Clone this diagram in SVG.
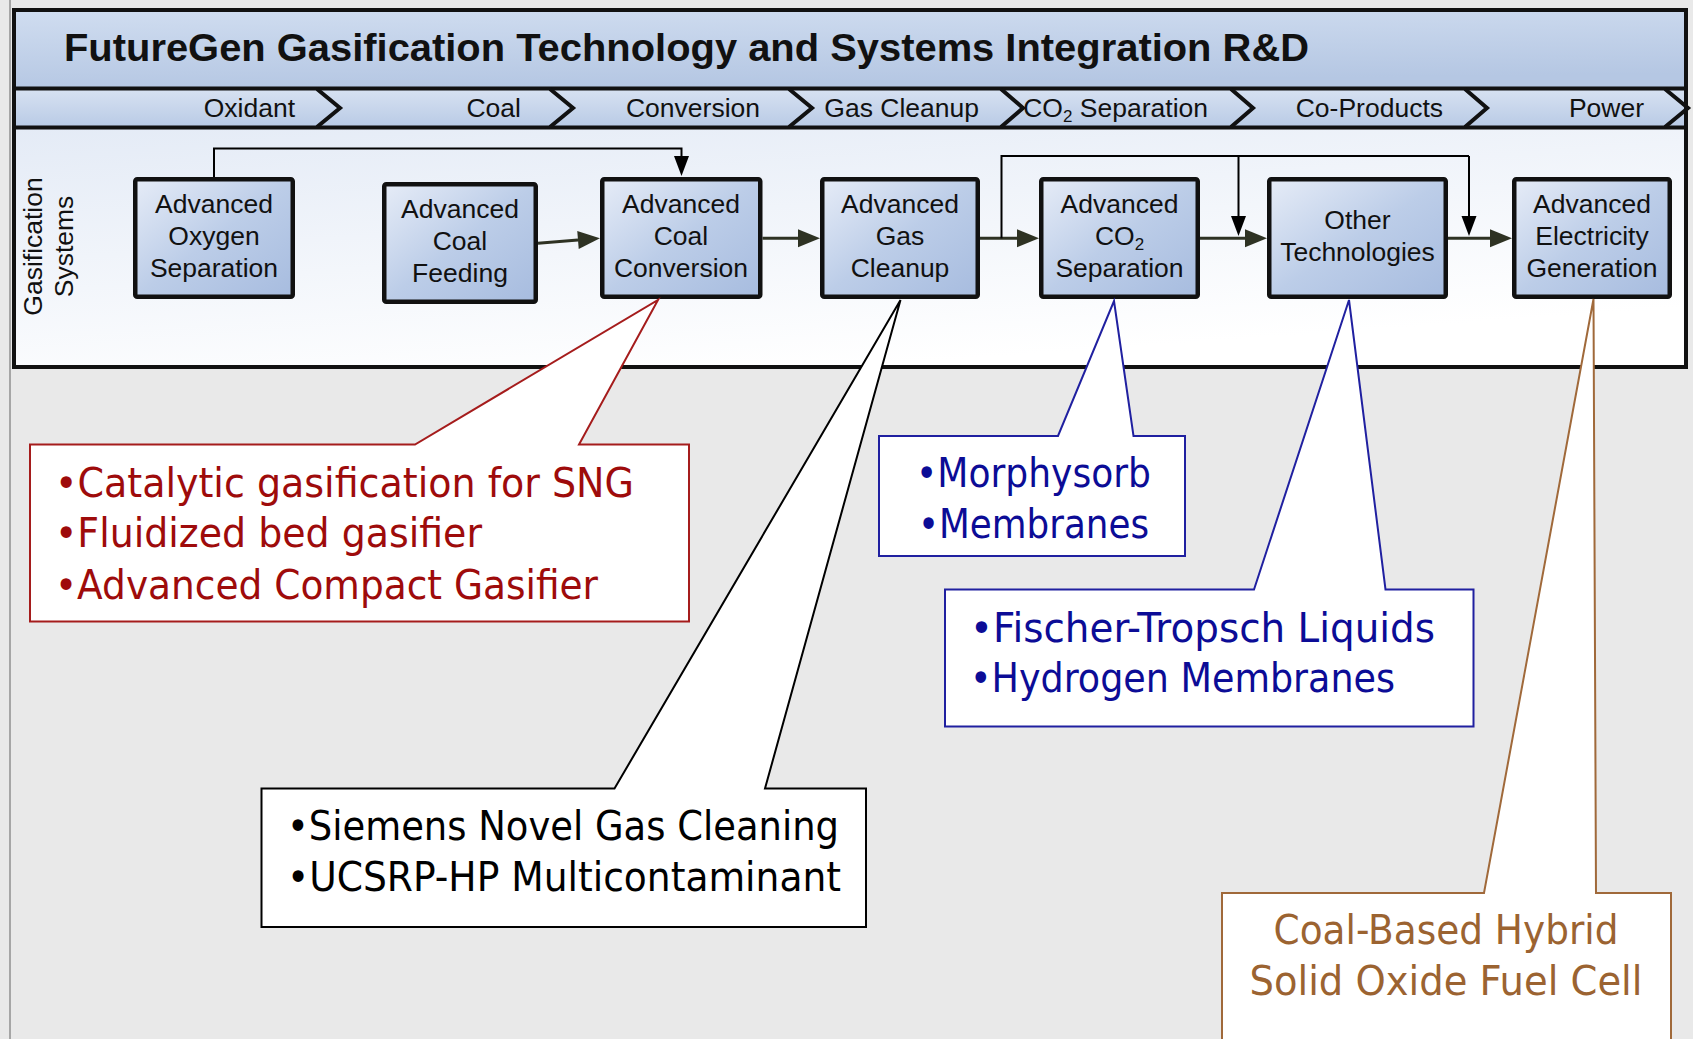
<svg xmlns="http://www.w3.org/2000/svg" width="1693" height="1039" viewBox="0 0 1693 1039">
<defs>
<style>
.nt{font-family:"Liberation Sans",Arial,sans-serif;font-size:26.5px;fill:#111;text-anchor:middle}
.cl{font-family:"Liberation Sans",Arial,sans-serif;font-size:26.5px;fill:#111;text-anchor:end}
.node{fill:url(#nodeGrad);stroke:#111;stroke-width:4.5}
.thick{fill:none;stroke:#2e3223;stroke-width:3;marker-end:url(#ah)}
.thin{fill:none;stroke:#000;stroke-width:2;marker-end:url(#ab)}
.co{font-family:"DejaVu Sans",Verdana,sans-serif;font-size:40px}
.cb{fill:#fff;stroke-width:2}
.chev{fill:none;stroke:#111;stroke-width:4;stroke-linejoin:miter}
</style>
<linearGradient id="nodeGrad" x1="0" y1="0" x2="1" y2="1">
<stop offset="0" stop-color="#e6ecf7"/>
<stop offset="0.5" stop-color="#bccde8"/>
<stop offset="1" stop-color="#a7bcdf"/>
</linearGradient>
<linearGradient id="titleGrad" x1="0" y1="0" x2="0.25" y2="1">
<stop offset="0" stop-color="#d0ddf0"/>
<stop offset="1" stop-color="#b5c7e3"/>
</linearGradient>
<linearGradient id="chevGrad" x1="0" y1="0" x2="0" y2="1">
<stop offset="0" stop-color="#d8e2f2"/>
<stop offset="1" stop-color="#b8cae5"/>
</linearGradient>
<linearGradient id="bodyGrad" x1="0" y1="0" x2="0.5" y2="1">
<stop offset="0" stop-color="#e4ebf6"/>
<stop offset="1" stop-color="#ffffff"/>
</linearGradient>
<marker id="ah" markerUnits="userSpaceOnUse" markerWidth="24" markerHeight="20" refX="0" refY="9" orient="auto" overflow="visible">
<path d="M0,0 L22,9 L0,18 Z" fill="#2e3223"/>
</marker>
<marker id="ab" markerUnits="userSpaceOnUse" markerWidth="22" markerHeight="16" refX="0" refY="7.5" orient="auto" overflow="visible">
<path d="M0,0 L20,7.5 L0,15 Z" fill="#000"/>
</marker>
</defs>

<rect x="0" y="0" width="1693" height="1039" fill="#e9e9e9"/>
<line x1="10" y1="0" x2="10" y2="1039" stroke="#a6a6a6" stroke-width="2"/>

<g id="frame">
<rect x="14" y="128" width="1672" height="239" fill="url(#bodyGrad)"/>
<rect x="14" y="10" width="1672" height="78" fill="url(#titleGrad)"/>
<rect x="14" y="88" width="1672" height="40" fill="url(#chevGrad)"/>
<rect x="14" y="10" width="1672" height="357" fill="none" stroke="#111" stroke-width="4"/>
<line x1="14" y1="88.5" x2="1686" y2="88.5" stroke="#111" stroke-width="4"/>
<line x1="14" y1="127.5" x2="1686" y2="127.5" stroke="#111" stroke-width="4"/>
<polyline class="chev" points="317,89 340,108 317,127"/>
<polyline class="chev" points="550,89 573,108 550,127"/>
<polyline class="chev" points="789,89 812,108 789,127"/>
<polyline class="chev" points="1001,89 1023,108 1001,127"/>
<polyline class="chev" points="1231,89 1253,108 1231,127"/>
<polyline class="chev" points="1465,89 1487,108 1465,127"/>
<polyline class="chev" points="1665,89 1688,108 1665,127"/>
<text x="64" y="61" font-family="'Liberation Sans',Arial,sans-serif" font-weight="bold" font-size="39.5" fill="#111" textLength="1245" lengthAdjust="spacingAndGlyphs">FutureGen Gasification Technology and Systems Integration R&amp;D</text>
<text class="cl" x="295" y="117">Oxidant</text>
<text class="cl" x="521" y="117">Coal</text>
<text class="cl" x="760" y="117">Conversion</text>
<text class="cl" x="979" y="117">Gas Cleanup</text>
<text class="cl" x="1208" y="117">CO<tspan font-size="17" dy="5">2</tspan><tspan dy="-5"> Separation</tspan></text>
<text class="cl" x="1443" y="117">Co-Products</text>
<text class="cl" x="1644" y="117">Power</text>
<text class="nt" font-size="26" transform="translate(42,246.5) rotate(-90)"><tspan x="0" y="0">Gasification</tspan><tspan x="0" y="31">Systems</tspan></text>
</g>

<g id="connectors">
<path class="thin" d="M214,177 V148.5 H681.5 V156"/>
<path class="thick" d="M538,243.3 L578,240"/>
<path class="thick" d="M762.5,238.3 H798"/>
<path class="thick" d="M980,238.3 H1017"/>
<path class="thick" d="M1200,238.3 H1245"/>
<path class="thick" d="M1448,238.3 H1490"/>
<path fill="none" stroke="#000" stroke-width="2" d="M1001.5,238.3 V156 H1469"/>
<path class="thin" d="M1238.5,156 V216"/>
<path class="thin" d="M1469,156 V216"/>
</g>

<g id="node-oxygen">
<rect class="node" x="135.25" y="179.25" width="157.5" height="117.5" rx="2"/>
<text class="nt"><tspan x="214" y="213">Advanced</tspan><tspan x="214" y="245">Oxygen</tspan><tspan x="214" y="277">Separation</tspan></text>
</g>
<g id="node-coal-feeding">
<rect class="node" x="384.25" y="184.25" width="151.5" height="117.5" rx="2"/>
<text class="nt"><tspan x="460" y="218">Advanced</tspan><tspan x="460" y="250">Coal</tspan><tspan x="460" y="282">Feeding</tspan></text>
</g>
<g id="node-coal-conversion">
<rect class="node" x="602.25" y="179.25" width="158" height="117.5" rx="2"/>
<text class="nt"><tspan x="681" y="213">Advanced</tspan><tspan x="681" y="245">Coal</tspan><tspan x="681" y="277">Conversion</tspan></text>
</g>
<g id="node-gas-cleanup">
<rect class="node" x="822.25" y="179.25" width="155.5" height="117.5" rx="2"/>
<text class="nt"><tspan x="900" y="213">Advanced</tspan><tspan x="900" y="245">Gas</tspan><tspan x="900" y="277">Cleanup</tspan></text>
</g>
<g id="node-co2-separation">
<rect class="node" x="1041.25" y="179.25" width="156.5" height="117.5" rx="2"/>
<text class="nt" x="1119.5" y="213">Advanced</text>
<text class="nt" x="1119.5" y="245">CO<tspan font-size="17" dy="5">2</tspan></text>
<text class="nt" x="1119.5" y="277">Separation</text>
</g>
<g id="node-other-technologies">
<rect class="node" x="1269.25" y="179.25" width="176.5" height="117.5" rx="2"/>
<text class="nt"><tspan x="1357.5" y="229">Other</tspan><tspan x="1357.5" y="261">Technologies</tspan></text>
</g>
<g id="node-electricity">
<rect class="node" x="1514.25" y="179.25" width="155.5" height="117.5" rx="2"/>
<text class="nt"><tspan x="1592" y="213">Advanced</tspan><tspan x="1592" y="245">Electricity</tspan><tspan x="1592" y="277">Generation</tspan></text>
</g>

<g id="callout-conversion">
<path class="cb" stroke="#a51c1c" d="M30,444.5 H415 L658,300 L579,444.5 H689 V621.5 H30 Z"/>
<g class="co" fill="#9e0b0b">
<text x="55" y="497" textLength="579" lengthAdjust="spacingAndGlyphs">•Catalytic gasification for SNG</text>
<text x="55" y="547" textLength="427" lengthAdjust="spacingAndGlyphs">•Fluidized bed gasifier</text>
<text x="55" y="599" textLength="543" lengthAdjust="spacingAndGlyphs">•Advanced Compact Gasifier</text>
</g>
</g>
<g id="callout-gas-cleanup">
<path class="cb" stroke="#000" d="M261.5,788.5 H614.5 L900.5,300 L765,788.5 H866 V927 H261.5 Z"/>
<g class="co" fill="#000">
<text x="287" y="840" textLength="552" lengthAdjust="spacingAndGlyphs">•Siemens Novel Gas Cleaning</text>
<text x="287" y="891" textLength="554" lengthAdjust="spacingAndGlyphs">•UCSRP-HP Multicontaminant</text>
</g>
</g>
<g id="callout-co2">
<path class="cb" stroke="#2020a0" d="M879,436 H1058 L1114,301 L1133.5,436 H1185 V556 H879 Z"/>
<g class="co" fill="#0c0c96">
<text x="916" y="487" textLength="235" lengthAdjust="spacingAndGlyphs">•Morphysorb</text>
<text x="918" y="538" textLength="231" lengthAdjust="spacingAndGlyphs">•Membranes</text>
</g>
</g>
<g id="callout-other">
<path class="cb" stroke="#2020a0" d="M945,589.5 H1254 L1349,300 L1385.5,589.5 H1473.5 V726.5 H945 Z"/>
<g class="co" fill="#0c0c96">
<text x="970" y="642" textLength="465" lengthAdjust="spacingAndGlyphs">•Fischer-Tropsch Liquids</text>
<text x="970" y="692" textLength="425" lengthAdjust="spacingAndGlyphs">•Hydrogen Membranes</text>
</g>
</g>
<g id="callout-electricity">
<path class="cb" stroke="#a0693a" d="M1222,893 H1484 L1593.5,299 L1596,893 H1671 V1045 H1222 Z"/>
<g class="co" fill="#9b6331" text-anchor="middle">
<text x="1446" y="944" textLength="345" lengthAdjust="spacingAndGlyphs">Coal-Based Hybrid</text>
<text x="1446" y="995" textLength="393" lengthAdjust="spacingAndGlyphs">Solid Oxide Fuel Cell</text>
</g>
</g>
</svg>
